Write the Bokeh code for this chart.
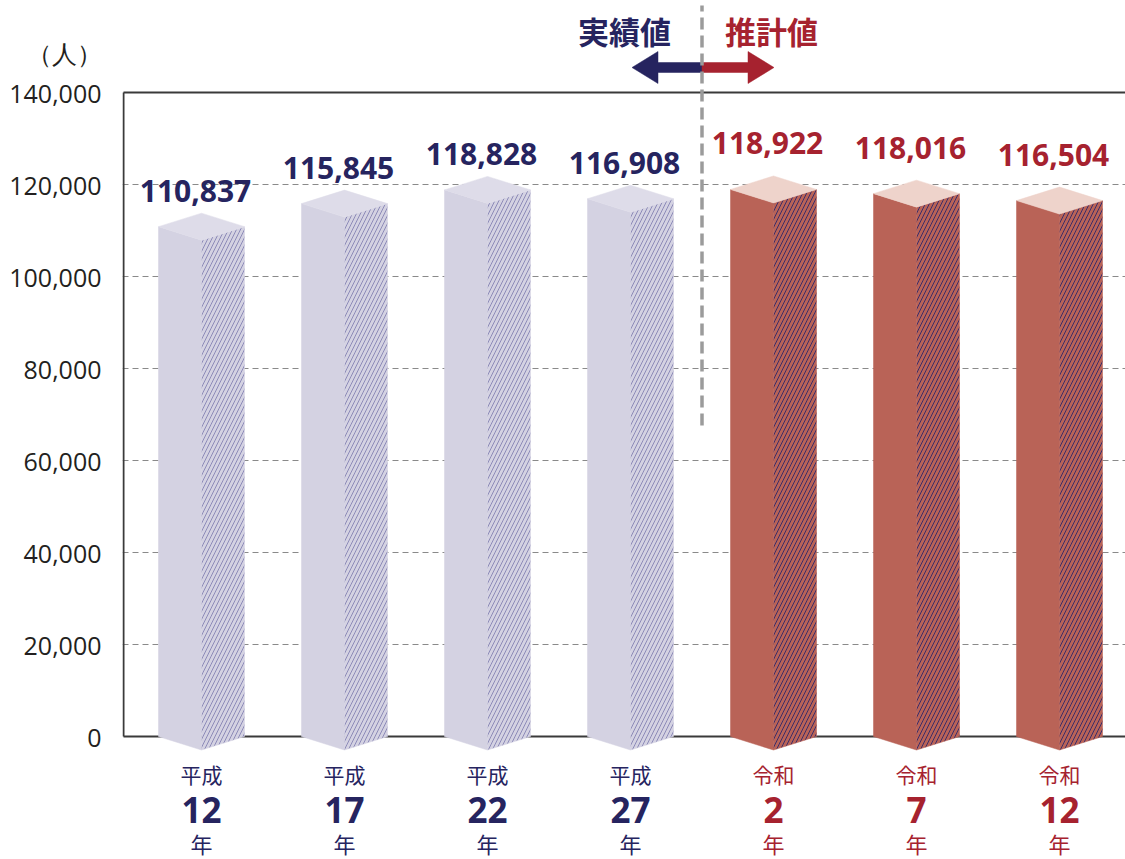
from bokeh.plotting import figure
from bokeh.models import ColumnDataSource, Range1d, FixedTicker, NumeralTickFormatter
from bokeh.core.properties import value
from bokeh.embed import file_html
from bokeh.resources import INLINE

# ---------------- data ----------------
eras = ["平成", "平成", "平成", "平成", "令和", "令和", "令和"]
years = ["12", "17", "22", "27", "2", "7", "12"]
population = [110837, 115845, 118828, 116908, 118922, 118016, 116504]
projected = [False, False, False, False, True, True, True]
y_ticks = [0, 20000, 40000, 60000, 80000, 100000, 120000, 140000]
unit_label = "（人）"
actual_label = "実績値"
projection_label = "推計値"
year_suffix = "年"

# ---------------- style ----------------
NAVY = "#26245f"
RED = "#a6222f"
AXIS_TEXT = "#231f20"
LIGHT_FRONT, LIGHT_TOP, LIGHT_HATCH = "#d4d2e2", "#dedce9", "#8d8bb8"
RED_FRONT, RED_TOP, RED_HATCH = "#b96357", "#eed3cb", "#3a2c6a"
NUM_FONT = "Open Sans"
JP_FONT = "Noto Sans CJK JP"

W, H = 1125, 859
BORDER_L = 122
FRAME_W = W - BORDER_L
X_PX = 143.0              # px per category
Y_PX = 4.6 / 1000.0       # px per person
ZERO_PX = 736             # figure-y of value 0
FIRST_BAR_PX = 79         # frame-x of first bar centre

x_start = -FIRST_BAR_PX / X_PX
x_end = x_start + FRAME_W / X_PX
y_end = ZERO_PX / Y_PX
y_start = -(H - ZERO_PX) / Y_PX


def dx(px):
    return px / X_PX


def dy(px):
    return px / Y_PX


def fig_y(py):
    """figure-pixel y -> data y"""
    return (ZERO_PX - py) / Y_PX


unit_tick = 148500  # where the unit caption sits on the value axis

p = figure(width=W, height=H, output_backend="svg", toolbar_location=None,
           x_range=Range1d(x_start, x_end), y_range=Range1d(y_start, y_end),
           x_axis_location=None, y_axis_location="left",
           min_border_left=BORDER_L, min_border_right=0,
           min_border_top=0, min_border_bottom=0)
p.outline_line_color = None
p.background_fill_color = "white"

ax = p.yaxis[0]
ax.ticker = FixedTicker(ticks=y_ticks + [unit_tick])
ax.formatter = NumeralTickFormatter(format="0,0")
ax.major_label_overrides = {unit_tick: unit_label}
ax.major_label_text_font = NUM_FONT
ax.major_label_text_font_size = "25px"
ax.major_label_text_color = AXIS_TEXT
ax.axis_line_color = None
ax.major_tick_line_color = None
ax.minor_tick_line_color = None
ax.major_tick_in = 0
ax.major_tick_out = 0
ax.major_label_standoff = 21

p.xgrid.visible = False
p.ygrid.ticker = FixedTicker(ticks=y_ticks[1:-1])
p.ygrid.grid_line_color = "#8a8a8a"
p.ygrid.grid_line_dash = "6 4"
p.ygrid.grid_line_width = 1.2

# frame lines
edge = x_start + dx(1)
p.segment(x0=[edge, edge, edge], y0=[0, y_ticks[-1], 0],
          x1=[edge, x_end, x_end], y1=[y_ticks[-1], y_ticks[-1], 0],
          line_color="#3a3a3a", line_width=2)

# ---------------- 3D bars ----------------
half = dx(43)
depth = dy(13.5)
front_xs, front_ys, side_xs, side_ys, top_xs, top_ys = [], [], [], [], [], []
fronts, tops, hatches = [], [], []
for i, v in enumerate(population):
    c = i
    front_xs.append([c - half, c, c, c - half])
    front_ys.append([v, v - depth, -depth, 0])
    side_xs.append([c, c + half, c + half, c])
    side_ys.append([v - depth, v, 0, -depth])
    top_xs.append([c - half, c, c + half, c])
    top_ys.append([v, v + depth, v, v - depth])
    fronts.append(RED_FRONT if projected[i] else LIGHT_FRONT)
    tops.append(RED_TOP if projected[i] else LIGHT_TOP)
    hatches.append(RED_HATCH if projected[i] else LIGHT_HATCH)

src = ColumnDataSource(dict(fx=front_xs, fy=front_ys, sx=side_xs, sy=side_ys,
                            tx=top_xs, ty=top_ys, front=fronts, top=tops, hatch=hatches))
p.patches("fx", "fy", source=src, fill_color="front", line_color="front", line_width=0.5)
p.patches("sx", "sy", source=src, fill_color="front", line_color="front", line_width=0.5,
          hatch_pattern="/", hatch_color="hatch", hatch_scale=8, hatch_weight=1.0)
p.patches("tx", "ty", source=src, fill_color="top", line_color="top", line_width=0.5)

# ---------------- value labels ----------------
for flag, color, lift in [(False, NAVY, 36), (True, RED, 46)]:
    idx = [i for i in range(len(population)) if projected[i] == flag]
    p.text(x=[i for i in idx], y=[population[i] + dy(lift) for i in idx],
           text=[f"{population[i]:,}" for i in idx],
           x_offset=-6, text_align="center", text_baseline="middle",
           text_font=value(NUM_FONT), text_font_style="bold",
           text_font_size="30px", text_color=color)

# ---------------- category labels ----------------
cat_colors = [RED if f else NAVY for f in projected]
xs = list(range(len(years)))
p.text(x=xs, y=[fig_y(773)] * len(xs), text=eras, text_align="center",
       text_baseline="middle", text_font=value(JP_FONT), text_font_size="21px",
       text_color=cat_colors)
p.text(x=xs, y=[fig_y(809)] * len(xs), text=years, text_align="center",
       text_baseline="middle", text_font=value(NUM_FONT), text_font_style="bold",
       text_font_size="35px", text_color=cat_colors)
p.text(x=xs, y=[fig_y(842)] * len(xs), text=[year_suffix] * len(xs), text_align="center",
       text_baseline="middle", text_font=value(JP_FONT), text_font_size="22px",
       text_color=cat_colors)

# ---------------- divider & arrows ----------------
div_x = (len([f for f in projected if not f]) - 1) + 0.5
arrow_y = fig_y(67)
shaft, head_w, head_back = 5, 16, 44
left_arrow = [(0, shaft), (-head_back, shaft), (-head_back, head_w), (-70, 0),
              (-head_back, -head_w), (-head_back, -shaft), (0, -shaft)]
right_arrow = [(-ax_, ay) for ax_, ay in [(0, shaft), (-46, shaft), (-46, head_w), (-72, 0),
                                          (-46, -head_w), (-46, -shaft), (0, -shaft)]]
p.patches(xs=[[div_x + dx(a) for a, b in left_arrow], [div_x + dx(a) for a, b in right_arrow]],
          ys=[[arrow_y + dy(b) for a, b in left_arrow], [arrow_y + dy(b) for a, b in right_arrow]],
          fill_color=[NAVY, RED], line_color=[NAVY, RED], line_width=0.5)

p.segment(x0=[div_x], y0=[fig_y(425)], x1=[div_x], y1=[fig_y(5)],
          line_color="#9b9b9b", line_width=3.5, line_dash="12 6")

p.text(x=[div_x], y=[fig_y(30)], text=[actual_label], x_offset=-31, text_align="right",
       text_baseline="middle", text_font=value(JP_FONT), text_font_style="bold",
       text_font_size="31px", text_color=NAVY)
p.text(x=[div_x], y=[fig_y(30)], text=[projection_label], x_offset=23, text_align="left",
       text_baseline="middle", text_font=value(JP_FONT), text_font_style="bold",
       text_font_size="31px", text_color=RED)

open("out.html", "w").write(file_html(p, INLINE))
